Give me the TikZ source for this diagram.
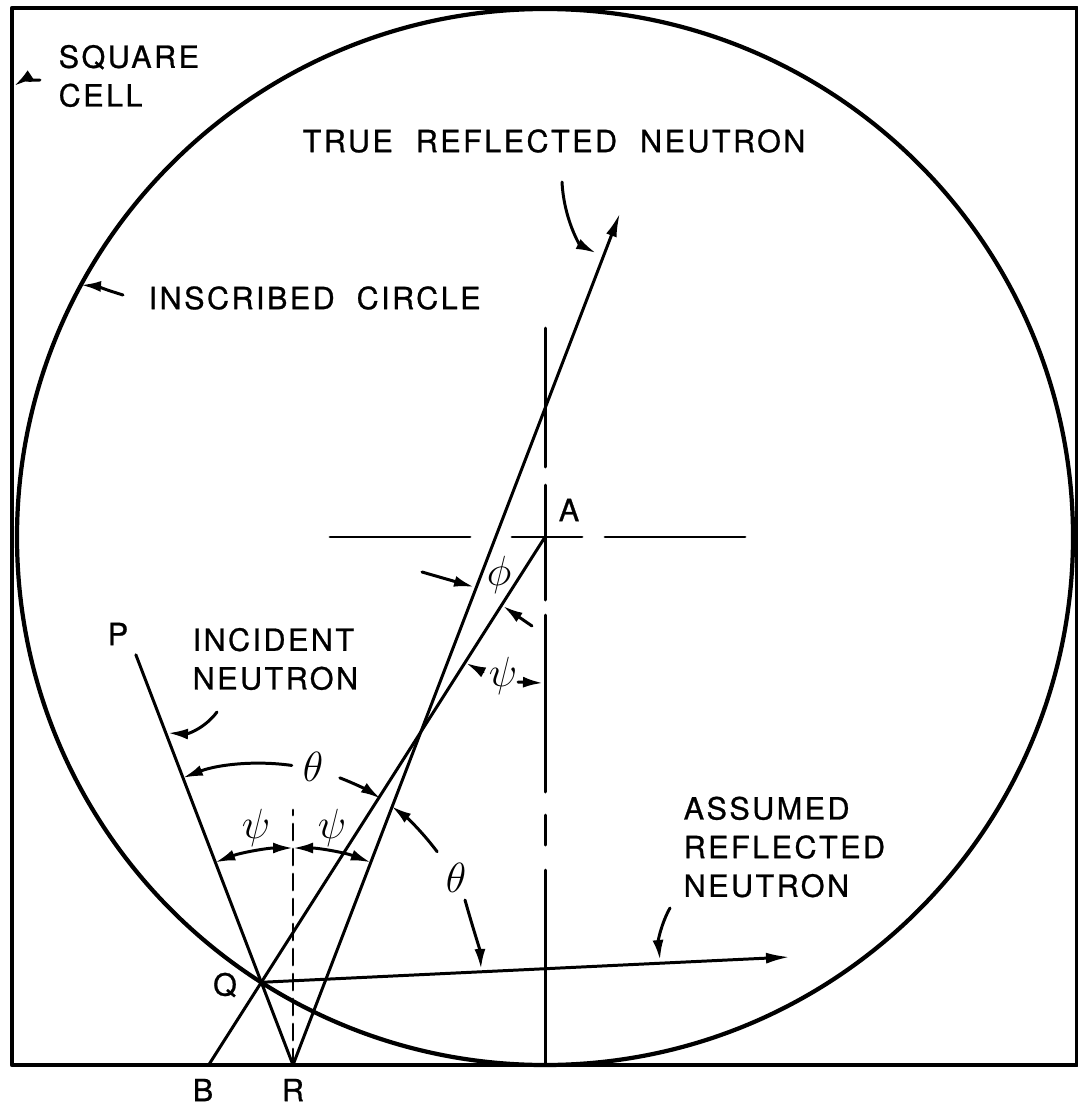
\documentclass[tikz,border=0pt]{standalone}
\usepackage{fontspec}
\setmainfont{TeX Gyre Heros}[LetterSpace=8.0, FakeBold=0.8]
\usetikzlibrary{arrows.meta,calc}

\begin{document}
\begin{tikzpicture}[
  line cap=round, line join=round,
  >={Latex[length=2.4mm,width=1.1mm]},
  ray/.style={line width=0.85pt},
  bound/.style={line width=1.2pt},
  guide/.style={line width=0.85pt},
  leader/.style={line width=0.85pt, -{Latex[length=2mm,width=1.1mm]}},
  dim/.style={line width=0.85pt,
              {Latex[length=2mm,width=1.1mm]}-{Latex[length=2mm,width=1.1mm]}},
  lbl/.style={inner sep=0pt, align=left, anchor=west,
              font=\fontsize{8.7}{11}\selectfont},
  pt/.style={inner sep=0pt, font=\fontsize{8.7}{11}\selectfont},
  ang/.style={inner sep=0pt, font=\fontsize{11.5}{13}\selectfont}
]
  \useasboundingbox (0,0) rectangle (10.78,-11.03);

  % ── Square cell and inscribed circle ───────────────────────────────────────
  \coordinate (A) at (5.45,-5.37);
  \draw[bound] (0.12,-0.08) rectangle (10.77,-10.65);
  \draw[bound] (A) circle (5.28);

  % Points of the construction
  \coordinate (Q) at ($(A)+(237.5:5.28)$);
  \coordinate (R) at (2.93,-10.65);
  \coordinate (B) at ($(A)!1.186!(Q)$);
  \coordinate (P) at ($(R)!4.96!(Q)$);
  \coordinate (T) at (6.20,-2.13);
  \coordinate (S) at (7.90,-9.57);

  % Centre lines through A
  \foreach \ya/\yb in {3.28/4.67, 4.85/6.00, 6.15/7.92, 8.15/8.45, 8.70/10.65}
    \draw[guide] (5.45,-\ya) -- (5.45,-\yb);
  \foreach \xa/\xb in {3.30/4.70, 5.12/5.82, 6.05/7.45}
    \draw[guide] (\xa,-5.37) -- (\xb,-5.37);

  % ── Neutron paths ──────────────────────────────────────────────────────────
  \draw[ray] (P) -- (R);
  \draw[ray, ->] (R) -- (T);
  \draw[ray] (B) -- (A);
  \draw[ray, ->] (Q) -- (S);
  \draw[guide, dash pattern=on 0.16cm off 0.09cm] (R) -- ++(0,2.55);

  % Point labels
  \node[pt] (lP) at (1.18,-6.34) {P};
  \node[pt] (lQ) at (2.25,-9.85) {Q};
  \node[pt] (lB) at (2.03,-10.90) {B};
  \node[pt] (lR) at (2.93,-10.90) {R};
  \node[pt] (lA) at (5.69,-5.10) {A};

  % ── Angles ─────────────────────────────────────────────────────────────────
  % psi at R
  \draw[dim] ($(R)+(90:2.17)$) arc[start angle=90, end angle=111, radius=2.17];
  \draw[dim] ($(R)+(90:2.17)$) arc[start angle=90, end angle=69, radius=2.17];
  \node[ang] (ps1) at (2.56,-8.28) {$\psi$};
  \node[ang] (ps2) at (3.32,-8.28) {$\psi$};

  % theta at Q
  \draw[leader] ($(Q)+(82:2.19)$) arc[start angle=82, end angle=111, radius=2.19];
  \draw[leader] ($(Q)+(69:2.19)$) arc[start angle=69, end angle=57, radius=2.19];
  \draw[leader] ($(Q)+(36.6:2.19)$) arc[start angle=36.6, end angle=53.5, radius=2.19];
  \node[ang] (th1) at (3.13,-7.67) {$\theta$};
  \node[ang] (th2) at (4.56,-8.78) {$\theta$};
  \draw[leader] (4.65,-9.00) .. controls (4.72,-9.25) and (4.80,-9.50) .. (4.81,-9.69);

  % psi and phi at A
  \node[ang] (ps3) at (5.03,-6.76) {$\psi$};
  \node[ang] (ph) at (4.99,-5.75) {$\phi$};
  \draw[leader] (4.83,-6.72) -- (4.66,-6.63);
  \draw[leader] (5.18,-6.82) -- (5.43,-6.83);
  \draw[leader] (4.22,-5.72) -- (4.74,-5.87);
  \draw[leader] (5.32,-6.26) -- (5.03,-6.06);

  % ── Labels ─────────────────────────────────────────────────────────────────
  \node[lbl] (sqcell) at (0.58,-0.76) {SQUARE\\CELL};
  \node[lbl] (inscr) at (1.48,-2.98) {INSCRIBED\ \ CIRCLE};
  \node[lbl] (truerefl) at (3.02,-1.41)
      {TRUE\hspace{0.12cm} REFLECTED\hspace{0.12cm} NEUTRON};
  \node[lbl] (incid) at (1.92,-6.59) {INCIDENT\\NEUTRON};
  \node[lbl] (assum) at (6.83,-8.47) {ASSUMED\\REFLECTED\\NEUTRON};

  \draw[leader] (0.40,-0.80) .. controls (0.30,-0.80) and (0.20,-0.82) .. (0.14,-0.86);
  \draw[leader] (1.23,-2.95) .. controls (1.10,-2.91) and (0.95,-2.86) .. (0.81,-2.85);
  \draw[leader] (5.62,-1.82) .. controls (5.64,-2.20) and (5.80,-2.45) .. (5.96,-2.53);
  \draw[leader] (2.17,-7.12) .. controls (2.05,-7.28) and (1.88,-7.34) .. (1.68,-7.33);
  \draw[leader] (6.70,-9.08) .. controls (6.62,-9.22) and (6.58,-9.40) .. (6.60,-9.60);
\end{tikzpicture}
\end{document}
